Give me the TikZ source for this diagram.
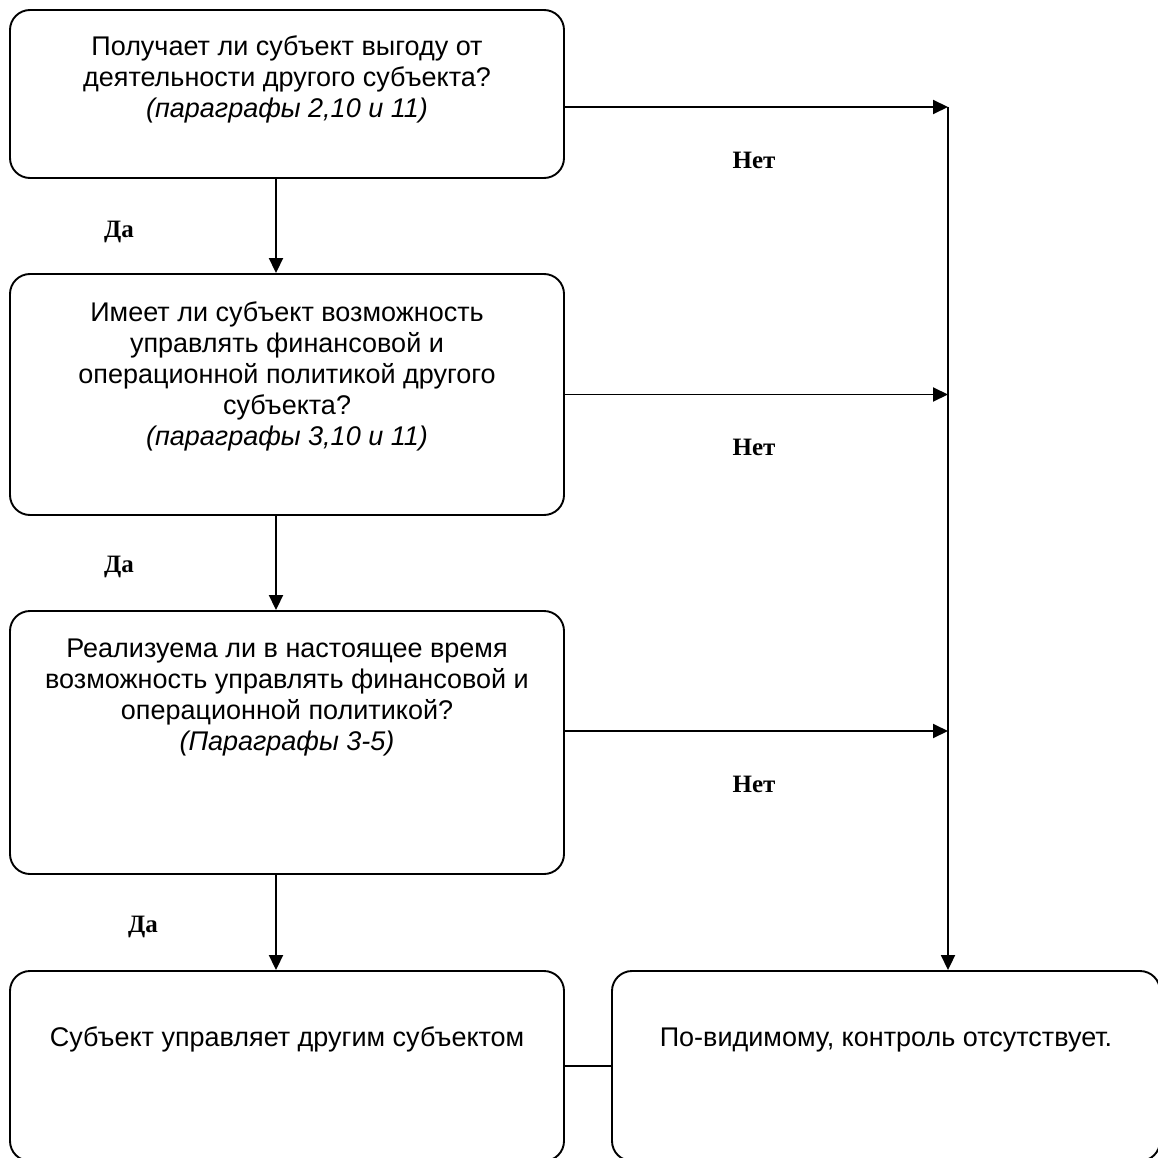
\documentclass[tikz,border=0pt]{standalone}
\usepackage{fontspec}
\setmainfont{Liberation Sans}
\newfontfamily\labfont{Liberation Serif}
\usetikzlibrary{arrows.meta}
\begin{document}
\begin{tikzpicture}[x=1pt,y=-1pt,
  box/.style={draw, line width=1.9pt, rounded corners=20pt, rectangle, inner sep=0pt, minimum width=554pt},
  txt/.style={align=center, inner sep=0pt, font=\fontsize{27}{31}\selectfont},
  lab/.style={inner sep=0pt, font=\labfont\bfseries\fontsize{25}{30}\selectfont},
  arr/.style={line width=1.9pt, -{Triangle[length=15pt,width=14pt]}},
  conn/.style={line width=1.9pt}]
\useasboundingbox (0,0) rectangle (1157,1158);
% boxes
\node[box, minimum height=168pt] (b1) at (287,94) {};
\node[box, minimum height=241pt] (b2) at (287,394.5) {};
\node[box, minimum height=263pt] (b3) at (287,742.5) {};
\node[box, minimum height=190pt] (b4) at (287,1066) {};
\node[box, minimum height=190pt, minimum width=548pt] (b5) at (886,1066) {};
% texts
\node[txt, anchor=north] (t1) at (287,36) {Получает ли субъект выгоду от\\деятельности другого субъекта?\\\textit{(параграфы 2,10 и 11)}};
\node[txt, anchor=north] (t2) at (287,301) {Имеет ли субъект возможность\\управлять финансовой и\\операционной политикой другого\\субъекта?\\\textit{(параграфы 3,10 и 11)}};
\node[txt, anchor=north] (t3) at (287,639) {Реализуема ли в настоящее время\\возможность управлять финансовой и\\операционной политикой?\\\textit{(Параграфы 3-5)}};
\node[txt, anchor=base] (t4) at (287,1046) {Субъект управляет другим субъектом};
\node[txt, anchor=base] (t5) at (886,1046) {По-видимому, контроль отсутствует.};
% labels
\node[lab] (da1) at (119,232) {Да};
\node[lab] (da2) at (119,567) {Да};
\node[lab] (da3) at (143,927) {Да};
\node[lab] (net1) at (754,160) {Нет};
\node[lab] (net2) at (754,447) {Нет};
\node[lab] (net3) at (754,784) {Нет};
% helper coordinates
\coordinate (vx) at (276,0);
\coordinate (r1) at (948,107);
\coordinate (r2) at (948,394.5);
\coordinate (r3) at (948,731);
% connectors
\draw[arr] (b1.south -| vx) -- (b2.north -| vx);
\draw[arr] (b2.south -| vx) -- (b3.north -| vx);
\draw[arr] (b3.south -| vx) -- (b4.north -| vx);
\draw[arr] (r1 -| b1.east) -- (r1);
\draw[arr] (b2.east) -- (r2);
\draw[arr] (r3 -| b3.east) -- (r3);
\draw[arr] (r1) -- (b5.north -| r1);
\draw[conn] (b4.east) -- (b5.west);
\end{tikzpicture}
\end{document}
